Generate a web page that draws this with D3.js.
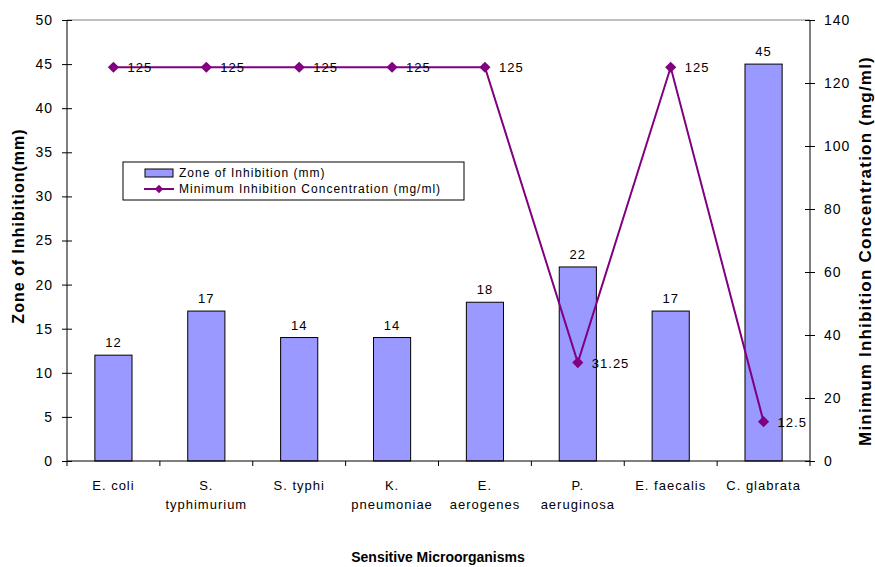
<!DOCTYPE html>
<html>
<head>
<meta charset="utf-8">
<script src="https://cdn.jsdelivr.net/npm/d3@7"></script>
<style>
  body { margin: 0; background: #fff; }
  text { font-family: "Liberation Sans", Arial, sans-serif; fill: #000; }
</style>
</head>
<body>
<svg width="875" height="567"></svg>
<script>
// data
const organisms = [["E. coli"], ["S.", "typhimurium"], ["S. typhi"], ["K.", "pneumoniae"],
    ["E.", "aerogenes"], ["P.", "aeruginosa"], ["E. faecalis"], ["C. glabrata"]];
const zoneValues = [12, 17, 14, 14, 18, 22, 17, 45];
const micValues = [125, 125, 125, 125, 125, 31.25, 125, 12.5];
const leftTicks = [0, 5, 10, 15, 20, 25, 30, 35, 40, 45, 50];
const rightTicks = [0, 20, 40, 60, 80, 100, 120, 140];

const svg = d3.select("svg");
const plotL = 67, plotR = 810, plotT = 20, plotB = 461;
const purple = "#800080";

const x = d3.scaleBand()
    .domain(d3.range(organisms.length))
    .range([plotL, plotR])
    .paddingInner(0.6)
    .paddingOuter(0.3);
const yL = d3.scaleLinear().domain([0, 50]).range([plotB, plotT]);
const yR = d3.scaleLinear().domain([0, 140]).range([plotB, plotT]);

// top border
svg.append("line")
    .attr("x1", plotL).attr("x2", plotR).attr("y1", plotT).attr("y2", plotT)
    .attr("stroke", "#808080");

// bars
svg.append("g").selectAll("rect")
    .data(zoneValues)
    .enter().append("rect")
    .attr("x", (d, i) => x(i))
    .attr("y", d => yL(d))
    .attr("width", x.bandwidth())
    .attr("height", d => plotB - yL(d))
    .attr("fill", "#9999FF")
    .attr("stroke", "#000")
    .attr("stroke-width", 1);

svg.append("g").selectAll("text")
    .data(zoneValues)
    .enter().append("text")
    .attr("x", (d, i) => x(i) + x.bandwidth() / 2)
    .attr("y", d => yL(d) - 8)
    .attr("text-anchor", "middle")
    .attr("font-size", 13)
    .attr("letter-spacing", 1)
    .text(d => d);

// axes
const axisL = svg.append("g")
    .attr("transform", `translate(${plotL},0)`)
    .call(d3.axisLeft(yL).tickValues(leftTicks).tickSize(5).tickPadding(9));
axisL.selectAll(".tick line").attr("x2", 5).attr("x1", -5);

const axisR = svg.append("g")
    .attr("transform", `translate(${plotR},0)`)
    .call(d3.axisRight(yR).tickValues(rightTicks).tickSize(5).tickPadding(9));
axisR.selectAll(".tick line").attr("x1", -5);

const bandW = (plotR - plotL) / organisms.length;
svg.append("g").selectAll("line")
    .data(d3.range(organisms.length + 1))
    .enter().append("line")
    .attr("x1", i => plotL + i * bandW).attr("x2", i => plotL + i * bandW)
    .attr("y1", plotB).attr("y2", plotB + 5)
    .attr("stroke", "#000");
svg.append("line")
    .attr("x1", plotL).attr("x2", plotR).attr("y1", plotB).attr("y2", plotB)
    .attr("stroke", "#000");

[axisL, axisR].forEach(a => {
    a.select(".domain").attr("d", `M0,${plotB}V${plotT}`).attr("stroke", "#000");
    a.selectAll(".tick line").attr("stroke", "#000");
    a.selectAll(".tick text").attr("font-size", 14).attr("fill", "#000")
        .attr("letter-spacing", 1)
        .style("font-family", '"Liberation Sans", Arial, sans-serif');
});

// category labels
const cat = svg.append("g").selectAll("text")
    .data(organisms)
    .enter().append("text")
    .attr("x", (d, i) => x(i) + x.bandwidth() / 2)
    .attr("y", 490)
    .attr("text-anchor", "middle")
    .attr("font-size", 13)
    .attr("letter-spacing", 1);
cat.selectAll("tspan")
    .data(d => d)
    .enter().append("tspan")
    .attr("x", function () { return d3.select(this.parentNode).attr("x"); })
    .attr("dy", (d, i) => i === 0 ? 0 : 19)
    .text(d => d);

// MIC line
const cx = i => x(i) + x.bandwidth() / 2;
const line = d3.line().x((d, i) => cx(i)).y(d => yR(d));
svg.append("path")
    .datum(micValues)
    .attr("d", line)
    .attr("fill", "none")
    .attr("stroke", purple)
    .attr("stroke-width", 2);

const diamond = d3.symbol().type(d3.symbolDiamond2).size(80);
svg.append("g").selectAll("path")
    .data(micValues)
    .enter().append("path")
    .attr("transform", (d, i) => `translate(${cx(i)},${yR(d)})`)
    .attr("d", diamond)
    .attr("fill", purple);

svg.append("g").selectAll("text")
    .data(micValues)
    .enter().append("text")
    .attr("x", (d, i) => cx(i) + 14)
    .attr("y", d => yR(d) + 5)
    .attr("font-size", 13)
    .attr("letter-spacing", 1)
    .text(d => d);

// axis titles
svg.append("text")
    .attr("transform", "translate(24,226) rotate(-90)")
    .attr("text-anchor", "middle")
    .attr("font-size", 16).attr("font-weight", "bold")
    .attr("letter-spacing", 1)
    .text("Zone of Inhibition(mm)");
svg.append("text")
    .attr("transform", "translate(871,251) rotate(-90)")
    .attr("text-anchor", "middle")
    .attr("font-size", 17).attr("font-weight", "bold")
    .attr("letter-spacing", 1.2)
    .text("Minimum Inhibition Concentration (mg/ml)");
svg.append("text")
    .attr("x", 438).attr("y", 562)
    .attr("text-anchor", "middle")
    .attr("font-size", 14).attr("font-weight", "bold")
    .text("Sensitive Microorganisms");

// legend
const lg = svg.append("g").attr("transform", "translate(123,162)");
lg.append("rect").attr("width", 341).attr("height", 38)
    .attr("fill", "#fff").attr("stroke", "#000");
lg.append("rect").attr("x", 22).attr("y", 7).attr("width", 28).attr("height", 8)
    .attr("fill", "#9999FF").attr("stroke", "#000");
lg.append("text").attr("x", 56).attr("y", 15).attr("font-size", 12)
    .attr("letter-spacing", 1)
    .text("Zone of Inhibition (mm)");
lg.append("line").attr("x1", 21).attr("x2", 51).attr("y1", 27).attr("y2", 27)
    .attr("stroke", purple).attr("stroke-width", 2);
lg.append("path").attr("transform", "translate(36,27)")
    .attr("d", d3.symbol().type(d3.symbolDiamond2).size(45)).attr("fill", purple);
lg.append("text").attr("x", 56).attr("y", 31).attr("font-size", 12)
    .attr("letter-spacing", 1)
    .text("Minimum Inhibition Concentration (mg/ml)");
</script>
</body>
</html>
